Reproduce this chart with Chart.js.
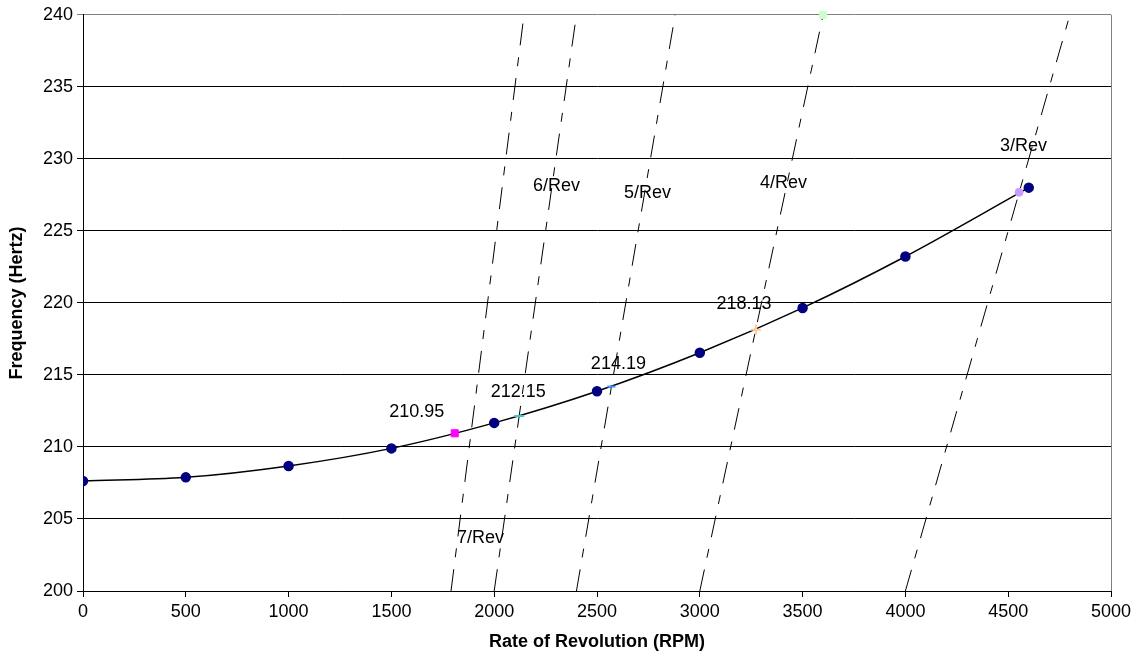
<!DOCTYPE html>
<html>
<head>
<meta charset="utf-8">
<script src="https://cdn.jsdelivr.net/npm/chart.js@4.4.1/dist/chart.umd.min.js"></script>
<style>
  html, body { margin: 0; padding: 0; background: #fff; }
  #wrap { width: 1137px; height: 653px; }
</style>
</head>
<body>
<div id="wrap"><canvas id="chart" width="1137" height="653"></canvas></div>
<script>
// Campbell diagram - blade frequency vs rotor speed

// measured natural frequency
const rpm = [0, 500, 1000, 1500, 2000, 2500, 3000, 3500, 4000, 4600];
const freq = [207.64, 207.89, 208.68, 209.9, 211.67, 213.87, 216.54, 219.65, 223.22, 228.0];

// excitation order lines, start and end (RPM, Hz)
const revNames = ['7/Rev', '6/Rev', '5/Rev', '4/Rev', '3/Rev'];
const revStartRpm = [1790, 2000, 2400, 3000, 4000];
const revEndRpm = [2145, 2400, 2880, 3600, 4800];
const revStartHz = [200, 200, 200, 200, 200];
const revEndHz = [240, 240, 240, 240, 240];
// where the order labels sit (RPM, Hz)
const revLabelRpm = [1819, 2189, 2631, 3293, 4460];
const revLabelHz = [203.7, 228.1, 227.6, 228.35, 230.9];

// crossing points of the orders with the frequency curve
const crossRpm = [1808, 2121.5, 2570, 3273, 4553, 3600];
const crossHz = [210.95, 212.15, 214.19, 218.13, 227.68, 240];
const crossText = ['210.95', '212.15', '214.19', '218.13', '', ''];

const yTicks = [200, 205, 210, 215, 220, 225, 230, 235, 240];
const xTicks = [0, 500, 1000, 1500, 2000, 2500, 3000, 3500, 4000, 4500, 5000];

const FONT = '"Liberation Sans", Arial, sans-serif';

const crossStyle = [
    { style: 'rect', color: '#ff00ff', r: 5 },
    { style: 'line', color: '#33cccc', r: 5 },
    { style: 'line', color: '#3399ff', r: 4 },
    { style: 'cross', color: '#ffcc99', r: 5 },
    { style: 'circle', color: '#cc99ff', r: 4 },
    { style: 'rect', color: '#ccffcc', r: 5 }
];
// label offsets from the crossing marker, px
const crossOffset = [[-38, -21], [-1, -24], [7, -23], [-12, -26]];

const datasets = [];

revNames.forEach((name, i) => {
    datasets.push({
        label: name,
        data: [{ x: revStartRpm[i], y: revStartHz[i] }, { x: revEndRpm[i], y: revEndHz[i] }],
        showLine: true,
        borderColor: '#000',
        borderWidth: 1,
        borderDash: [22, 12, 9, 12],
        pointRadius: 0,
        order: 3
    });
});

datasets.push({
    label: 'Frequency',
    data: rpm.map((r, i) => ({ x: r, y: freq[i] })),
    showLine: true,
    borderColor: '#000',
    borderWidth: 1.5,
    cubicInterpolationMode: 'monotone',
    pointRadius: 4.5,
    pointBackgroundColor: '#000080',
    pointBorderColor: '#000080',
    order: 1
});

crossRpm.forEach((r, i) => {
    const s = crossStyle[i];
    datasets.push({
        label: 'cross' + i,
        data: [{ x: r, y: crossHz[i] }],
        showLine: false,
        pointStyle: s.style,
        pointRadius: s.r,
        pointBackgroundColor: s.color,
        pointBorderColor: s.color,
        pointBorderWidth: s.style === 'line' || s.style === 'cross' ? 2 : 1,
        clip: false,
        order: 0
    });
});

const labelPlugin = {
    id: 'labels',
    afterDatasetsDraw(chart) {
        const ctx = chart.ctx;
        const xs = chart.scales.x, ys = chart.scales.y;
        ctx.save();
        ctx.fillStyle = '#000';
        ctx.font = '18px ' + FONT;
        ctx.textBaseline = 'middle';
        ctx.textAlign = 'left';
        revNames.forEach((n, i) => {
            ctx.fillText(n, xs.getPixelForValue(revLabelRpm[i]), ys.getPixelForValue(revLabelHz[i]));
        });
        ctx.textAlign = 'center';
        crossText.forEach((t, i) => {
            if (!t) return;
            const px = xs.getPixelForValue(crossRpm[i]) + crossOffset[i][0];
            const py = ys.getPixelForValue(crossHz[i]) + crossOffset[i][1];
            ctx.fillText(t, px, py);
        });
        // right border of the plot
        const a = chart.chartArea;
        ctx.strokeStyle = '#808080';
        ctx.lineWidth = 1;
        ctx.beginPath();
        ctx.moveTo(Math.round(a.right) + 0.5, a.top);
        ctx.lineTo(Math.round(a.right) + 0.5, a.bottom);
        ctx.stroke();
        ctx.restore();
    }
};

new Chart(document.getElementById('chart'), {
    type: 'scatter',
    data: { datasets: datasets },
    options: {
        responsive: false,
        animation: false,
        layout: { padding: { left: 6, right: 26, top: 13, bottom: 0 } },
        plugins: {
            legend: { display: false },
            tooltip: { enabled: false }
        },
        scales: {
            x: {
                type: 'linear',
                min: 0,
                max: 5000,
                afterBuildTicks: axis => { axis.ticks = xTicks.map(v => ({ value: v })); },
                afterFit: axis => { axis.height = 62; },
                ticks: {
                    color: '#000',
                    font: { family: FONT, size: 18 },
                    padding: 4,
                    maxRotation: 0,
                    callback: v => String(v)
                },
                grid: { drawOnChartArea: false, drawTicks: true, tickLength: 6, color: '#000' },
                border: { color: '#000', width: 1 },
                title: {
                    display: true,
                    text: 'Rate of Revolution (RPM)',
                    color: '#000',
                    font: { family: FONT, size: 18, weight: 'bold' },
                    padding: { top: 2, bottom: 0 }
                }
            },
            y: {
                type: 'linear',
                min: 200,
                max: 240,
                afterBuildTicks: axis => { axis.ticks = yTicks.map(v => ({ value: v })); },
                afterFit: axis => { axis.width = 77; },
                ticks: { color: '#000', font: { family: FONT, size: 18 }, padding: 4, callback: v => String(v) },
                grid: {
                    color: c => (c.tick && c.tick.value === 240 ? '#808080' : '#000'),
                    lineWidth: 1,
                    tickLength: 6
                },
                border: { color: '#000', width: 1 },
                title: {
                    display: true,
                    text: 'Frequency (Hertz)',
                    color: '#000',
                    font: { family: FONT, size: 18, weight: 'bold' },
                    padding: { top: 0, bottom: 6 }
                }
            }
        }
    },
    plugins: [labelPlugin]
});
</script>
</body>
</html>
